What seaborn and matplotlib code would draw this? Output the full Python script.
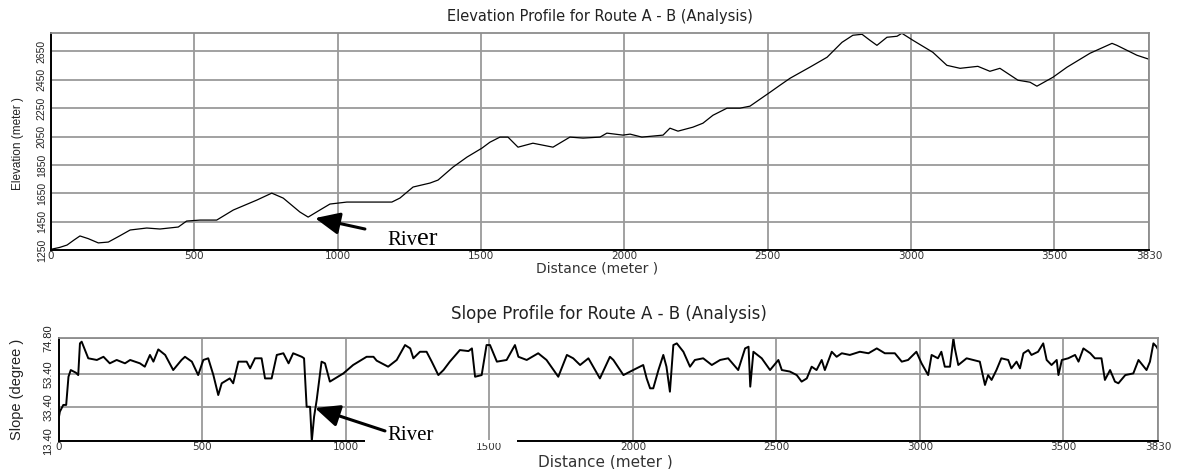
import matplotlib
matplotlib.use("Agg")
import matplotlib.pyplot as plt
from matplotlib.patches import Rectangle
import seaborn as sns
import pandas as pd

# ---------------- data ----------------
elev_dist = [0, 30, 56, 80, 101, 130, 165, 200, 240, 276, 334, 380, 444, 473, 520,
             578, 636, 718, 770, 810, 868, 897, 938, 973, 1032, 1101, 1148, 1189,
             1217, 1263, 1322, 1350, 1402, 1451, 1503, 1531, 1566, 1594, 1629, 1681,
             1751, 1810, 1856, 1915, 1939, 1995, 2020, 2061, 2135, 2159, 2187, 2239,
             2274, 2309, 2358, 2403, 2438, 2483, 2508, 2543, 2578, 2647, 2707, 2759,
             2797, 2829, 2857, 2881, 2916, 2951, 2968, 3007, 3076, 3125, 3171, 3233,
             3275, 3310, 3373, 3415, 3439, 3495, 3544, 3624, 3701, 3718, 3788, 3830]
elev_m = [1255, 1268, 1285, 1320, 1349, 1330, 1300, 1306, 1350, 1391, 1405, 1398,
          1412, 1454, 1461, 1461, 1532, 1602, 1651, 1616, 1518, 1482, 1532, 1574,
          1588, 1588, 1588, 1588, 1616, 1694, 1722, 1743, 1834, 1905, 1968, 2010,
          2046, 2046, 1975, 2003, 1975, 2046, 2039, 2046, 2074, 2060, 2067, 2046,
          2060, 2109, 2088, 2116, 2144, 2200, 2250, 2250, 2264, 2327, 2362, 2412,
          2461, 2539, 2609, 2714, 2764, 2771, 2728, 2693, 2750, 2757, 2778, 2728,
          2644, 2552, 2531, 2545, 2510, 2531, 2447, 2433, 2405, 2468, 2539, 2637,
          2707, 2693, 2623, 2595]

slope_dist = [0, 3, 15, 25, 33, 41, 59, 67, 73, 79, 102, 132, 155, 177, 201, 230,
              248, 282, 299, 317, 329, 346, 370, 398, 427, 439, 463, 485, 503, 520,
              538, 555, 567, 595, 607, 625, 654, 666, 683, 706, 718, 741, 759, 782,
              800, 816, 846, 854, 863, 875, 881, 889, 898, 915, 927, 944, 962, 991,
              1025, 1072, 1096, 1107, 1147, 1177, 1206, 1224, 1235, 1258, 1281, 1299,
              1322, 1340, 1362, 1397, 1427, 1439, 1450, 1473, 1490, 1502, 1526, 1560,
              1589, 1601, 1630, 1670, 1699, 1740, 1770, 1792, 1816, 1845, 1885, 1920,
              1932, 1967, 2001, 2036, 2048, 2060, 2071, 2089, 2106, 2117, 2129, 2141,
              2153, 2176, 2199, 2216, 2245, 2275, 2304, 2332, 2367, 2391, 2403, 2409,
              2420, 2449, 2478, 2507, 2519, 2547, 2571, 2588, 2606, 2623, 2640, 2658,
              2669, 2693, 2710, 2728, 2756, 2791, 2821, 2850, 2878, 2913, 2937, 2959,
              2988, 3006, 3029, 3041, 3063, 3075, 3087, 3105, 3117, 3122, 3134, 3163,
              3209, 3227, 3238, 3250, 3267, 3284, 3308, 3319, 3337, 3349, 3361, 3378,
              3389, 3412, 3430, 3442, 3459, 3477, 3483, 3495, 3517, 3541, 3553, 3570,
              3594, 3610, 3633, 3645, 3663, 3680, 3692, 3716, 3744, 3762, 3790, 3802,
              3814, 3825, 3830]
slope_deg = [27.9, 30.9, 34.9, 34.9, 51.7, 55.7, 54.1, 52.7, 71.6, 72.6, 62.7, 61.7,
             63.6, 59.7, 61.7, 59.7, 61.7, 59.7, 57.7, 64.7, 60.7, 68.0, 64.7, 55.7,
             61.7, 63.6, 60.7, 52.7, 61.7, 62.7, 52.7, 40.8, 47.8, 50.7, 47.8, 60.7,
             60.7, 56.7, 62.7, 62.7, 50.7, 50.7, 64.7, 65.7, 59.7, 65.7, 63.6, 62.7,
             33.8, 33.8, 13.4, 27.9, 37.8, 60.7, 59.7, 48.8, 50.7, 53.7, 58.7, 63.6,
             63.6, 61.3, 57.7, 61.7, 70.6, 68.6, 62.7, 66.6, 66.6, 60.7, 52.7, 55.7,
             60.7, 67.6, 67.0, 68.6, 51.7, 52.7, 70.6, 70.6, 60.7, 61.7, 70.6, 63.6,
             61.7, 65.7, 61.7, 51.7, 64.7, 62.7, 58.7, 62.7, 50.7, 63.6, 61.7, 52.7,
             55.7, 58.7, 50.7, 44.8, 44.8, 55.7, 64.7, 57.7, 42.8, 70.6, 71.6, 66.6,
             57.7, 61.7, 62.7, 58.7, 61.7, 62.7, 55.7, 68.6, 69.6, 45.8, 66.6, 62.7,
             55.7, 61.7, 55.7, 54.8, 52.7, 48.8, 50.7, 57.7, 55.7, 61.7, 55.7, 66.6,
             63.6, 65.7, 64.7, 66.6, 65.7, 68.6, 65.7, 65.7, 60.7, 61.7, 66.6, 59.7,
             52.7, 64.7, 62.7, 66.6, 57.7, 57.7, 74.6, 68.6, 58.7, 62.7, 60.7, 46.8,
             52.7, 49.8, 55.7, 62.7, 61.7, 56.7, 60.7, 56.7, 65.7, 67.6, 64.7, 66.6,
             71.6, 61.7, 58.7, 61.7, 52.7, 61.7, 62.7, 64.7, 60.7, 68.6, 65.7, 62.7,
             62.7, 49.8, 55.7, 48.8, 47.8, 52.7, 53.7, 61.7, 55.7, 60.7, 71.6, 69.6,
             68.0]

dist_ticks = [0, 500, 1000, 1500, 2000, 2500, 3000, 3500, 3830]
elev_ticks = [1250, 1450, 1650, 1850, 2050, 2250, 2450, 2650]
slope_ticks = [13.40, 33.40, 53.40, 74.80]
slope_tick_labels = ["13.40", "33.40", "53.40", "74.80"]

elev_df = pd.DataFrame({"Distance": elev_dist, "Elevation": elev_m})
slope_df = pd.DataFrame({"Distance": slope_dist, "Slope": slope_deg})

# ---------------- figure ----------------
sns.set_style("white")
W, H = 1177, 469
fig = plt.figure(figsize=(W / 100, H / 100), dpi=100)
fig.patch.set_facecolor("white")

NARROW = ["Liberation Sans Narrow", "Liberation Sans", "DejaVu Sans"]
SERIF = ["Liberation Serif", "DejaVu Serif"]
WIDE = ["DejaVu Sans"]

ax1 = fig.add_axes([51 / W, 1 - 250 / H, 1098 / W, 217 / H])
ax2 = fig.add_axes([59 / W, 1 - 441 / H, 1099 / W, 103 / H])


def style_axes(ax, ylab_pad):
    ax.set_facecolor("white")
    ax.grid(True, color="#9a9a9a", linewidth=1.3)
    ax.set_axisbelow(True)
    for side in ("top", "right"):
        ax.spines[side].set_color("#8c8c8c")
        ax.spines[side].set_linewidth(1.3)
    for side in ("left", "bottom"):
        ax.spines[side].set_color("black")
        ax.spines[side].set_linewidth(1.4)
    ax.tick_params(axis="x", length=0, pad=1, labelsize=7.5, labelcolor="#333333")
    ax.tick_params(axis="y", length=0, pad=ylab_pad)


# ---- top: elevation profile ----
sns.lineplot(data=elev_df, x="Distance", y="Elevation", ax=ax1,
             color="black", linewidth=0.9, estimator=None, sort=False)
ax1.set_xlim(0, 3830)
ax1.set_ylim(1250, 2780)
ax1.set_xticks(dist_ticks)
ax1.set_xticklabels([str(t) for t in dist_ticks], family=WIDE)
ax1.set_yticks(elev_ticks)
ax1.set_yticklabels([str(t) for t in elev_ticks], rotation=90, va="center",
                    ha="right", family=NARROW, fontsize=7.5, color="#222222")
style_axes(ax1, 3)
ax1.set_title("Elevation Profile for Route A - B (Analysis)", fontsize=10.5,
              family=WIDE, color="#222222", pad=9)
ax1.set_xlabel("Distance (meter )", fontsize=10, family=WIDE, color="#333333",
               va="center")
ax1.xaxis.set_label_coords(0.497, -19 / 217)
ax1.set_ylabel("Elevation (meter )", fontsize=8.5, family=NARROW, color="#222222",
               va="center")
ax1.yaxis.set_label_coords(-33 / 1098, 0.49)

# River annotation (top)
ax1.annotate("", xy=(921, 1475), xytext=(1095, 1398),
             arrowprops=dict(arrowstyle="-|>,head_length=1.0,head_width=0.45",
                             mutation_scale=15, lw=2.2, color="black",
                             shrinkA=0, shrinkB=0))
t1 = ax1.text(1172, 1285, "Riv", family=SERIF, fontsize=15, va="baseline",
              ha="left", color="black")
ax1.annotate("er", xy=(1, 0), xycoords=t1, family=SERIF, fontsize=19,
             va="bottom", ha="left", color="black")

# ---- bottom: slope profile ----
sns.lineplot(data=slope_df, x="Distance", y="Slope", ax=ax2,
             color="black", linewidth=1.4, estimator=None, sort=False)
ax2.set_xlim(0, 3830)
ax2.set_ylim(13.4, 74.8)
ax2.set_xticks(dist_ticks)
ax2.set_xticklabels([str(t) for t in dist_ticks], family=WIDE)
ax2.set_yticks(slope_ticks)
ax2.set_yticklabels(slope_tick_labels, rotation=90, va="center", ha="right",
                    family=NARROW, fontsize=8, color="#222222")
style_axes(ax2, 4)
ax2.set_title("Slope Profile for Route A - B (Analysis)", fontsize=12,
              family=WIDE, color="#222222", pad=14)
ax2.set_xlabel("Distance (meter )", fontsize=11, family=WIDE, color="#333333",
               va="center")
ax2.xaxis.set_label_coords(0.497, -20.5 / 103)
ax2.set_ylabel("Slope (degree )", fontsize=10.5, family=NARROW, color="#222222",
               va="center")
ax2.yaxis.set_label_coords(-42 / 1099, 0.5)

# pasted white strip over the bottom axis line, as in the reference
fig.add_artist(Rectangle((365 / W, 1 - 443 / H), 152 / W, 3.5 / H,
                         transform=fig.transFigure, facecolor="white",
                         edgecolor="none", zorder=5))

ax2.annotate("", xy=(892, 33.1), xytext=(1136, 19.4),
             arrowprops=dict(arrowstyle="-|>,head_length=1.0,head_width=0.45",
                             mutation_scale=15, lw=2.2, color="black",
                             shrinkA=0, shrinkB=0))
ax2.text(1143, 14.2, "River", family=SERIF, fontsize=15, va="baseline",
         ha="left", color="black", zorder=6)

fig.savefig("out.png", dpi=100, facecolor="white")
